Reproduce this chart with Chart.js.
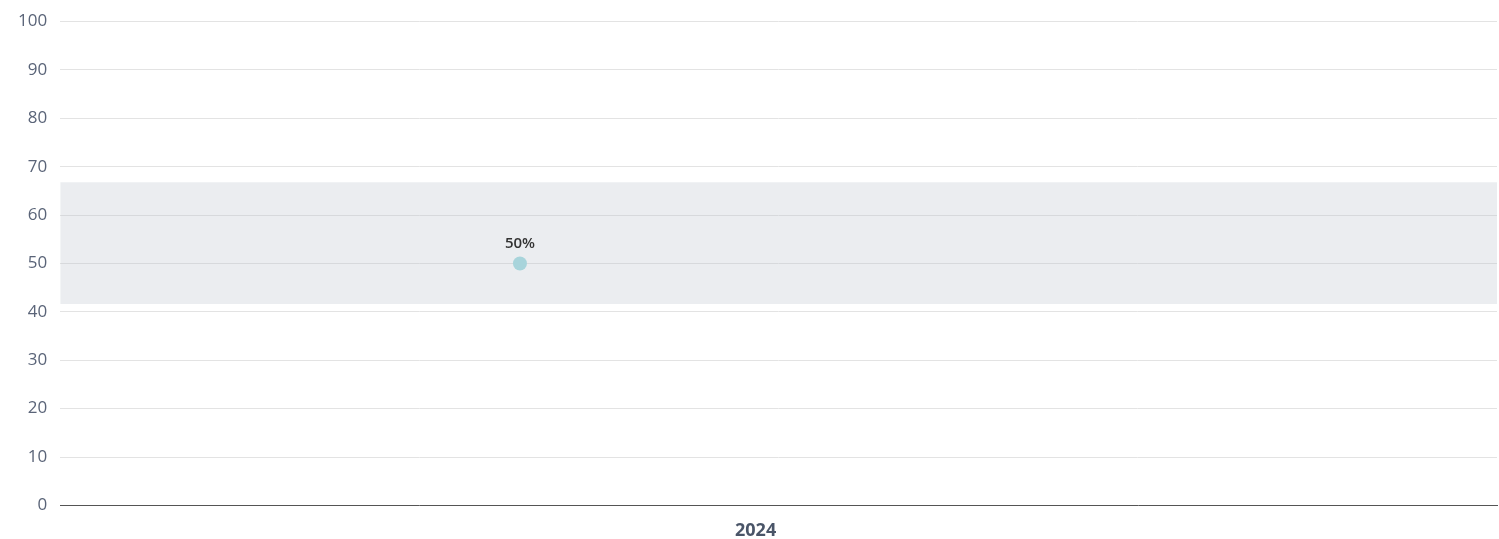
<!DOCTYPE html>
<html>
<head>
<meta charset="utf-8">
<script src="https://cdn.jsdelivr.net/npm/chart.js@4/dist/chart.umd.min.js"></script>
<style>
  html, body { margin: 0; padding: 0; background: #fff; }
  #wrap { width: 1499px; height: 539px; }
</style>
</head>
<body>
<div id="wrap"><canvas id="c"></canvas></div>
<script>
// data
const categories = ['2024'];
const categoryPos = [0.484];      // where the category label sits on the x range 0..1
const pointX = [0.32];
const pointValues = [50];
const bandLow = 41.6;
const bandHigh = 66.8;
const yTicks = [0, 10, 20, 30, 40, 50, 60, 70, 80, 90, 100];

const FONT = "'Open Sans', sans-serif";

// draws the "50%" label above each point
const valueLabels = {
  id: 'valueLabels',
  afterDatasetsDraw(chart) {
    const ctx = chart.ctx;
    const meta = chart.getDatasetMeta(2);
    ctx.save();
    ctx.font = `600 15px ${FONT}`;
    ctx.fillStyle = '#333';
    ctx.textAlign = 'center';
    ctx.textBaseline = 'bottom';
    meta.data.forEach((el, i) => {
      ctx.fillText(pointValues[i] + '%', el.x, el.y - 12);
    });
    ctx.restore();
  }
};

new Chart(document.getElementById('c'), {
  type: 'line',
  data: {
    datasets: [
      {
        label: 'bandHigh',
        data: [{ x: 0, y: bandHigh }, { x: 1, y: bandHigh }],
        borderWidth: 0,
        pointRadius: 0,
        fill: '+1',
        backgroundColor: 'rgba(190,195,205,0.3)',
      },
      {
        label: 'bandLow',
        data: [{ x: 0, y: bandLow }, { x: 1, y: bandLow }],
        borderWidth: 0,
        pointRadius: 0,
        fill: false,
      },
      {
        label: 'value',
        data: pointValues.map((v, i) => ({ x: pointX[i], y: v })),
        showLine: false,
        pointRadius: 7,
        pointHoverRadius: 7,
        pointBorderWidth: 0,
        pointBackgroundColor: '#9fdce1',
        borderColor: '#9fdce1',
      },
    ],
  },
  options: {
    responsive: true,
    maintainAspectRatio: false,
    animation: false,
    layout: { autoPadding: false, padding: { top: -1, right: 2, left: 5, bottom: -18 } },
    plugins: { legend: { display: false }, tooltip: { enabled: false } },
    scales: {
      x: {
        type: 'linear',
        min: 0,
        max: 1,
        afterBuildTicks: axis => { axis.ticks = categoryPos.map(v => ({ value: v })); },
        ticks: {
          callback: (v, i) => categories[i],
          color: '#4a5568',
          font: { family: FONT, size: 18, weight: 'bold' },
          padding: 15,
          maxRotation: 0,
        },
        grid: { display: false, drawTicks: false },
        border: { display: true, color: '#555', width: 1 },
      },
      y: {
        min: 0,
        max: 100,
        afterBuildTicks: axis => { axis.ticks = yTicks.map(v => ({ value: v })); },
        ticks: {
          color: '#5a6478',
          font: { family: FONT, size: 17, lineHeight: 1 },
          padding: 13,
        },
        grid: { color: '#e3e3e3', drawTicks: false },
        border: { display: false },
      },
    },
  },
  plugins: [valueLabels],
});
</script>
</body>
</html>
